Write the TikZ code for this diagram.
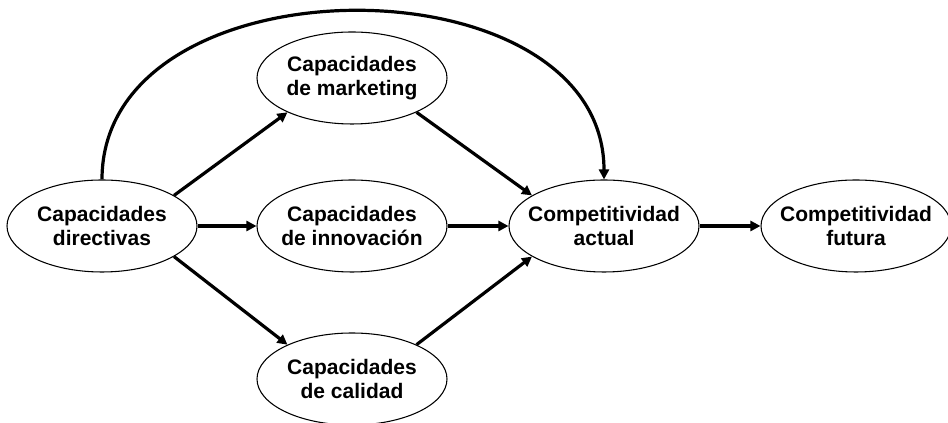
\documentclass[tikz,border=0pt]{standalone}
\usepackage{fontspec}
\setmainfont{Liberation Sans}
\usetikzlibrary{shapes.geometric,arrows.meta}
\tikzset{
  capa/.style={draw, ellipse, line width=0.8pt, minimum width=142.5pt, minimum height=69pt,
    inner xsep=-10pt, inner ysep=0pt, align=center,
    font=\bfseries\fontsize{15.75}{18}\selectfont},
  flecha/.style={line width=2.4pt, -{Triangle[length=7.5pt,width=7.5pt]}}
}
\begin{document}
\begin{tikzpicture}[x=0.75pt,y=0.75pt]
        \useasboundingbox (0,0) rectangle (948,423);
        %% capacidades
        \node[capa] (dir) at (102,197) {Capacidades\\directivas};
        \node[capa] (mkt) at (352,345) {Capacidades\\de marketing};
        \node[capa] (inn) at (352,197) {Capacidades\\de innovación};
        \node[capa] (cal) at (352,44) {Capacidades\\de calidad};
        %% competitividad
        \node[capa] (act) at (604,197) {Competitividad\\actual};
        \node[capa] (fut) at (856,197) {Competitividad\\futura};
        %% flechas
        \draw[flecha] (dir.23) -- (mkt.208);
        \draw[flecha] (dir) -- (inn);
        \draw[flecha] (dir.-23) -- (cal.152);
        \draw[flecha] (mkt.-28) -- (act.157);
        \draw[flecha] (inn) -- (act);
        \draw[flecha] (cal.28) -- (act.-157);
        \draw[flecha] (act) -- (fut);
        \draw[flecha] (dir.north) .. controls +(0,224) and +(0,224) .. (act.north);
\end{tikzpicture}
\end{document}
